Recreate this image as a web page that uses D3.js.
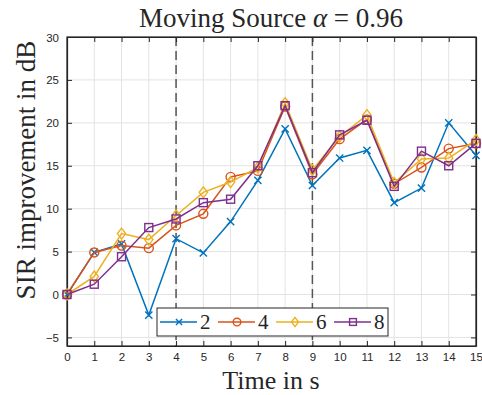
<!DOCTYPE html>
<html>
<head>
<meta charset="utf-8">
<script src="https://cdn.jsdelivr.net/npm/d3@7"></script>
<style>
  body { margin: 0; background: #fff; }
  svg text { fill: #262626; }
</style>
</head>
<body>
<div id="chart"></div>
<script>
var times = d3.range(0, 16);
var vals2 = [0, 4.9, 5.9, -2.4, 6.5, 4.85, 8.5, 13.3, 19.3, 12.7, 15.9, 16.8, 10.7, 12.4, 20.0, 16.2];
var vals4 = [0, 4.9, 5.7, 5.4, 8.05, 9.4, 13.7, 14.4, 21.9, 14.0, 18.1, 20.4, 12.9, 14.8, 17.0, 17.6];
var vals6 = [0, 2.1, 7.1, 6.4, 9.2, 11.9, 13.1, 14.8, 22.3, 14.5, 18.4, 20.9, 13.0, 15.8, 15.9, 18.0];
var vals8 = [0, 1.2, 4.4, 7.8, 8.8, 10.7, 11.1, 15.0, 22.0, 14.2, 18.6, 20.3, 12.6, 16.7, 15.0, 17.6];
var seriesNames = ['2', '4', '6', '8'];
var colors = ['#0072BD', '#D95319', '#EDB120', '#7E2F8E'];
var markers = ['x', 'o', 'd', 's'];
var yTicks = [-5, 0, 5, 10, 15, 20, 25, 30];
var markerLines = [4, 9];

var W = 482, H = 395;
var margin = { top: 37, right: 6, bottom: 49, left: 67 },
    width = W - margin.left - margin.right,
    height = H - margin.top - margin.bottom;

var svg = d3.select('#chart').append('svg')
    .attr('width', W)
    .attr('height', H);
var g = svg.append('g')
    .attr('transform', 'translate(' + margin.left + ',' + margin.top + ')');

var x = d3.scaleLinear().domain([0, 15]).range([0, width]);
var y = d3.scaleLinear().domain([-6, 30]).range([height, 0]);
var serif = '"Liberation Serif", "DejaVu Serif", serif';
var sans = '"Liberation Sans", Arial, sans-serif';

// grid
g.append('g').selectAll('line').data(times).enter().append('line')
    .attr('x1', d => x(d)).attr('x2', d => x(d))
    .attr('y1', 0).attr('y2', height)
    .attr('stroke', '#e3e3e3').attr('stroke-width', 1);
g.append('g').selectAll('line').data(yTicks).enter().append('line')
    .attr('x1', 0).attr('x2', width)
    .attr('y1', d => y(d)).attr('y2', d => y(d))
    .attr('stroke', '#e3e3e3').attr('stroke-width', 1);

// dashed lines
g.append('g').selectAll('line').data(markerLines).enter().append('line')
    .attr('x1', d => x(d)).attr('x2', d => x(d))
    .attr('y1', 0).attr('y2', height)
    .attr('stroke', '#555').attr('stroke-width', 1.5)
    .attr('stroke-dasharray', '9,5');

// axes (ticks inside, box)
var axB = g.append('g').attr('transform', 'translate(0,' + height + ')')
    .call(d3.axisBottom(x).tickValues(times).tickSizeInner(-5).tickSizeOuter(0).tickPadding(7));
var axL = g.append('g')
    .call(d3.axisLeft(y).tickValues(yTicks).tickFormat(d3.format('d')).tickSizeInner(-5).tickSizeOuter(0).tickPadding(8));
var axT = g.append('g')
    .call(d3.axisTop(x).tickValues(times).tickSizeInner(-5).tickSizeOuter(0).tickFormat(''));
var axR = g.append('g').attr('transform', 'translate(' + width + ',0)')
    .call(d3.axisRight(y).tickValues(yTicks).tickSizeInner(-5).tickSizeOuter(0).tickFormat(''));
[axB, axL, axT, axR].forEach(function(a) {
  a.selectAll('.domain').attr('stroke', '#262626').attr('stroke-width', 1.2);
  a.selectAll('.tick line').attr('stroke', '#262626');
  a.selectAll('text').style('font-family', sans).style('font-size', '11.5px').attr('fill', '#262626');
});
axL.selectAll('text').attr('dy', '0.35em');
axB.selectAll('text').attr('dy', '0.71em');
g.append('rect').attr('width', width).attr('height', height)
    .attr('fill', 'none').attr('stroke', '#262626').attr('stroke-width', 1.2);

function drawMarker(sel, type, color, sc) {
  var s = 3.6 * sc;
  if (type === 'x') {
    sel.append('path').attr('d', 'M' + -s + ',' + -s + 'L' + s + ',' + s + 'M' + -s + ',' + s + 'L' + s + ',' + -s)
      .attr('stroke', color).attr('stroke-width', 1.4).attr('fill', 'none');
  } else if (type === 'o') {
    sel.append('circle').attr('r', 4.5 * sc)
      .attr('stroke', color).attr('stroke-width', 1.4).attr('fill', 'none');
  } else if (type === 'd') {
    var d = 5.5 * sc;
    sel.append('path').attr('d', 'M0,' + -d + 'L' + d * 0.75 + ',0L0,' + d + 'L' + -d * 0.75 + ',0Z')
      .attr('stroke', color).attr('stroke-width', 1.4).attr('fill', 'none');
  } else {
    sel.append('rect').attr('x', -4 * sc).attr('y', -4 * sc).attr('width', 8 * sc).attr('height', 8 * sc)
      .attr('stroke', color).attr('stroke-width', 1.4).attr('fill', 'none');
  }
}

var allSeries = [vals2, vals4, vals6, vals8];
var line = d3.line().x((d, i) => x(times[i])).y(d => y(d));
allSeries.forEach(function(vals, k) {
  var sg = g.append('g');
  sg.append('path').datum(vals)
    .attr('d', line)
    .attr('fill', 'none')
    .attr('stroke', colors[k])
    .attr('stroke-width', 1.5);
  sg.selectAll('.m').data(vals).enter().append('g')
    .attr('transform', (d, i) => 'translate(' + x(times[i]) + ',' + y(d) + ')')
    .each(function() { drawMarker(d3.select(this), markers[k], colors[k], 1); });
});

// legend
var lg = svg.append('g').attr('transform', 'translate(157,308)');
lg.append('rect').attr('width', 231).attr('height', 28)
  .attr('fill', '#fff').attr('stroke', '#262626').attr('stroke-width', 1);
var legX = [3, 61, 119, 177];
seriesNames.forEach(function(n, k) {
  var e = lg.append('g').attr('transform', 'translate(' + legX[k] + ',14)');
  e.append('line').attr('x1', 0).attr('x2', 37).attr('stroke', colors[k]).attr('stroke-width', 1.5);
  drawMarker(e.append('g').attr('transform', 'translate(19,0)'), markers[k], colors[k], 0.85);
  e.append('text').attr('x', 40).attr('y', 7)
    .style('font-family', serif).style('font-size', '21px').text(n);
});

// title and labels
svg.append('text').attr('x', 271).attr('y', 27)
  .attr('text-anchor', 'middle').style('font-family', serif).style('font-size', '27px')
  .html('Moving Source <tspan font-style="italic">α</tspan> = 0.96');
svg.append('text').attr('x', 271).attr('y', 389)
  .attr('text-anchor', 'middle').style('font-family', serif).style('font-size', '26px')
  .text('Time in s');
svg.append('text').attr('transform', 'translate(35,170) rotate(-90)')
  .attr('text-anchor', 'middle').style('font-family', serif).style('font-size', '27px')
  .text('SIR improvement in dB');
</script>
</body>
</html>
